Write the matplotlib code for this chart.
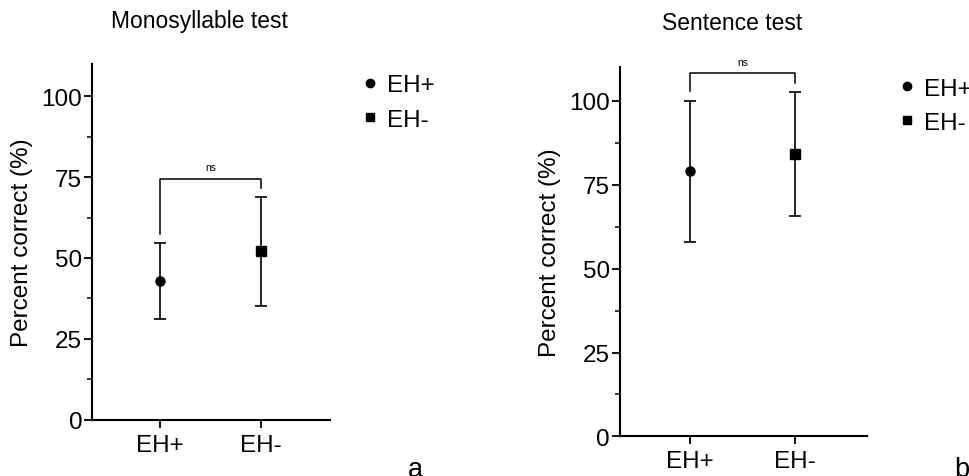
import numpy as np
import matplotlib.pyplot as plt
from matplotlib.lines import Line2D

plt.rcParams['font.family'] = ['Liberation Sans', 'DejaVu Sans']

groups = ["EH+", "EH-"]
markers = ["o", "s"]

# Monosyllable test: mean with lower / upper error limits
mono_mean = [43.0, 52.0]
mono_lo = [31.2, 35.0]
mono_hi = [54.7, 68.8]
mono_bracket = 74.5
mono_legs = [57.5, 71.5]

# Sentence test
sent_mean = [79.0, 84.0]
sent_lo = [58.0, 65.8]
sent_hi = [100.0, 102.5]
sent_bracket = 108.2
sent_legs = [103.0, 105.2]

fig = plt.figure(figsize=(9.7, 4.77), dpi=100)
ax1 = fig.add_axes([0.0948, 0.118, 0.2454, 0.746])
ax2 = fig.add_axes([0.639, 0.083, 0.2545, 0.774])

fs = 17.5


def panel(ax, mean, lo, hi, bracket, legs):
    x = np.arange(1, len(groups) + 1)
    for i in range(len(groups)):
        ax.errorbar(x[i], mean[i],
                    yerr=[[mean[i] - lo[i]], [hi[i] - mean[i]]],
                    fmt=markers[i], color='black', ms=6.5, elinewidth=1.2,
                    capsize=4, capthick=1.2)
    ax.plot([x[0], x[0], x[1], x[1]], [legs[0], bracket, bracket, legs[1]],
            color='black', lw=1.1, clip_on=False)
    ax.text((x[0] + x[1]) / 2, bracket + 2, "ns", ha='center', va='bottom',
            fontsize=7.5)
    ax.set_xlim(0.33, 2.68)
    ax.set_ylim(0, 110)
    ax.set_xticks(x)
    ax.set_xticklabels(groups)
    ax.set_yticks([0, 25, 50, 75, 100])
    ax.set_yticks(np.arange(12.5, 110, 25), minor=True)
    for s in ['top', 'right']:
        ax.spines[s].set_visible(False)
    for s in ['left', 'bottom']:
        ax.spines[s].set_linewidth(1.5)
    ax.tick_params(axis='both', which='major', length=6, width=1.3,
                   labelsize=fs, pad=1, color='black')
    ax.tick_params(axis='x', pad=4)
    ax.tick_params(axis='y', which='minor', length=3.5, width=1.1)
    ax.set_ylabel("Percent correct (%)", fontsize=fs, labelpad=6)


panel(ax1, mono_mean, mono_lo, mono_hi, mono_bracket, mono_legs)
panel(ax2, sent_mean, sent_lo, sent_hi, sent_bracket, sent_legs)

fig.text(0.206, 0.942, "Monosyllable test", ha='center', va='baseline',
         fontsize=fs - 1)
fig.text(0.755, 0.937, "Sentence test", ha='center', va='baseline',
         fontsize=fs - 1)

handles = [Line2D([], [], marker=m, ls='none', color='black', ms=6)
           for m in markers]
fig.legend(handles, groups, loc='upper left', bbox_to_anchor=(0.374, 0.842),
           frameon=False, fontsize=fs, handlelength=0.6, handletextpad=0.4,
           labelspacing=0.5, borderaxespad=0, borderpad=0)
fig.legend(handles, groups, loc='upper left', bbox_to_anchor=(0.928, 0.835),
           frameon=False, fontsize=fs, handlelength=0.6, handletextpad=0.4,
           labelspacing=0.5, borderaxespad=0, borderpad=0)

fig.text(0.42, 0.0, "a", ha='left', va='baseline', fontsize=fs + 2)
fig.text(0.984, 0.0, "b", ha='left', va='baseline', fontsize=fs + 2)

fig.savefig("out.png", dpi=100)
